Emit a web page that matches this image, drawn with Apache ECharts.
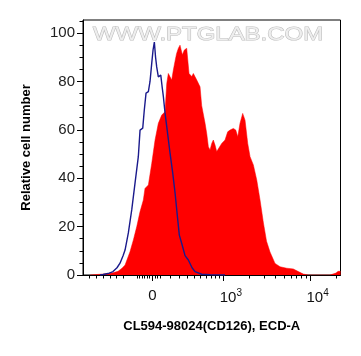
<!DOCTYPE html>
<html>
<head>
<meta charset="utf-8">
<script src="https://cdn.jsdelivr.net/npm/echarts@6/dist/echarts.min.js"></script>
<style>html,body{margin:0;padding:0;background:#fff}#c{width:361px;height:356px}</style>
</head>
<body>
<div id="c"></div>
<script>
// x positions are on the displayed biexponential scale, in decade units relative to the "0" tick
const blueX = [-0.606,-0.571,-0.513,-0.456,-0.410,-0.375,-0.340,-0.317,-0.279,-0.240,-0.202,-0.164,-0.144,-0.113,-0.095,-0.075,-0.048,-0.029,-0.009,0.006,0.021,0.035,0.048,0.067,0.095,0.110,0.125,0.144,0.164,0.202,0.233,0.260,0.286,0.309,0.337,0.375,0.413,0.456,0.490,0.567,0.663,0.836];
const blueY = [0,0.2,0.6,1.4,3,4.9,8,10.3,17.4,26.9,38,48.9,59.9,60.7,68.2,75.2,75.8,80,87.6,93,96.3,90,86,81.9,82.6,78,73.7,67,61.3,50.4,42.1,33.9,24.5,16.5,13,8,6.2,3,1.4,0.3,0.1,0];

const redX = [-0.721,-0.606,-0.536,-0.467,-0.398,-0.352,-0.317,-0.260,-0.221,-0.182,-0.144,-0.106,-0.087,-0.048,-0.009,0.029,0.067,0.106,0.144,0.164,0.182,0.202,0.221,0.240,0.260,0.277,0.298,0.317,0.344,0.367,0.394,0.421,0.452,0.471,0.510,0.548,0.567,0.606,0.625,0.644,0.663,0.683,0.701,0.721,0.740,0.759,0.798,0.836,0.867,0.894,0.932,0.960,0.983,1.009,1.040,1.067,1.098,1.125,1.163,1.202,1.240,1.279,1.315,1.355,1.413,1.471,1.548,1.624,1.682,1.739,1.797,2.047,2.116,2.140,2.168];
const redY = [0,0.3,0.5,0.8,1.5,2.8,4.1,9.6,14.5,20,26.2,31,35.8,37.2,46.2,55.8,62.7,66.1,67.5,79.2,83.3,81.9,80.6,84.7,88.5,91.5,93.7,95,91,93,93.7,83.3,82,83.3,80.6,77.8,70,62.7,58.5,53,51.7,54.4,55.8,53.7,51,51.7,54.4,55.8,59.2,59.9,60.6,59.9,57.1,62.7,66.8,64,54.4,48.9,45.5,39.3,31,21.5,14,9.5,4.8,3.4,2.8,2.5,1.4,0.4,0,0,0.8,1.5,1.5];

const xMajorTicks = [0, 0.817, 1.817];
const xTickBase = ['0', '10', '10'];
const xTickExp = ['', '3', '4'];
const xMinorTicks = [-0.729,-0.644,-0.568,-0.490,-0.413,-0.336,-0.179,-0.150,-0.121,-0.092,-0.063,-0.035,0.029,0.058,0.087,0.202,0.311,0.404,0.484,0.554,0.617,0.675,0.727,0.773,1.118,1.294,1.419,1.516,1.595,1.662,1.720,1.771,2.118];
const yMajorTicks = [0, 20, 40, 60, 80, 100];
const yMinorTicks = [5,10,15,25,30,35,45,50,55,65,70,75,85,90,95,105];

const xTitle = 'CL594-98024(CD126), ECD-A';
const yTitle = 'Relative cell number';
const watermark = 'WWW.PTGLAB.COM';

const chart = echarts.init(document.getElementById('c'), null, {renderer: 'canvas'});
const XMIN = -0.802, XMAX = 2.168, YMIN = 0, YMAX = 105.4;
const font = 'Liberation Sans, Arial, sans-serif';

function xLabel(v) {
  let i = 0, best = 1e9;
  xMajorTicks.forEach((t, k) => { if (Math.abs(t - v) < best) { best = Math.abs(t - v); i = k; } });
  return xTickExp[i] ? '{p|' + xTickBase[i] + '}{s|' + xTickExp[i] + '}' : '{b|' + xTickBase[i] + '}';
}

chart.setOption({
  animation: false,
  backgroundColor: '#fff',
  grid: {left: 83, right: 20.5, top: 20, bottom: 81, show: true, borderColor: '#000', borderWidth: 1, backgroundColor: 'transparent'},
  graphic: [{
    type: 'text', x: 93, y: 25, scaleX: 1.26, z: 0,
    style: {text: watermark, font: '19px ' + font, fill: '#eeeeee', stroke: '#bdbdbd', lineWidth: 1}
  }],
  xAxis: [{
    type: 'value', min: XMIN, max: XMAX, position: 'bottom',
    name: xTitle, nameLocation: 'middle', nameGap: 45,
    nameTextStyle: {fontFamily: font, fontSize: 13, fontWeight: 'bold', color: '#000'},
    axisLine: {show: true, onZero: false, lineStyle: {color: '#000', width: 1}},
    axisTick: {show: true, length: 6, lineStyle: {color: '#000', width: 1}, customValues: xMajorTicks},
    axisLabel: {
      customValues: xMajorTicks, margin: 13, color: '#111', fontFamily: font,
      formatter: xLabel,
      rich: {
        b: {fontSize: 15, fontFamily: font, color: '#111'},
        p: {fontSize: 15, fontFamily: font, color: '#111', padding: [0, 0, 0, 15]},
        s: {fontSize: 10, fontFamily: font, color: '#111', padding: [0, 0, 9, 0]}
      }
    },
    splitLine: {show: false}
  }, {
    type: 'value', min: XMIN, max: XMAX, position: 'bottom', gridIndex: 0,
    axisLine: {show: false, onZero: false},
    axisTick: {show: true, length: 3.5, lineStyle: {color: '#000', width: 1}, customValues: xMinorTicks},
    axisLabel: {show: false},
    splitLine: {show: false}
  }],
  yAxis: [{
    type: 'value', min: YMIN, max: YMAX, position: 'left',
    name: yTitle, nameLocation: 'middle', nameGap: 50,
    nameTextStyle: {fontFamily: font, fontSize: 13, fontWeight: 'bold', color: '#000'},
    axisLine: {show: true, onZero: false, lineStyle: {color: '#000', width: 1}},
    axisTick: {show: true, length: 6, lineStyle: {color: '#000', width: 1}, customValues: yMajorTicks},
    axisLabel: {customValues: yMajorTicks, margin: 8, fontSize: 15, fontFamily: font, color: '#222'},
    splitLine: {show: false}
  }, {
    type: 'value', min: YMIN, max: YMAX, position: 'left', gridIndex: 0,
    axisLine: {show: false, onZero: false},
    axisTick: {show: true, length: 3.5, lineStyle: {color: '#000', width: 1}, customValues: yMinorTicks},
    axisLabel: {show: false},
    splitLine: {show: false}
  }],
  series: [{
    type: 'line', name: 'CD126', xAxisIndex: 0, yAxisIndex: 0, z: 2,
    data: redX.map((x, i) => [x, redY[i]]),
    symbol: 'none', lineStyle: {width: 0.5, color: '#ff0000'},
    itemStyle: {color: '#ff0000'},
    areaStyle: {color: '#ff0000', opacity: 1}
  }, {
    type: 'line', name: 'Control', xAxisIndex: 0, yAxisIndex: 0, z: 3,
    data: blueX.map((x, i) => [x, blueY[i]]),
    symbol: 'none', lineStyle: {width: 1.4, color: '#1a1a8c'},
    itemStyle: {color: '#1a1a8c'}
  }]
});
</script>
</body>
</html>
